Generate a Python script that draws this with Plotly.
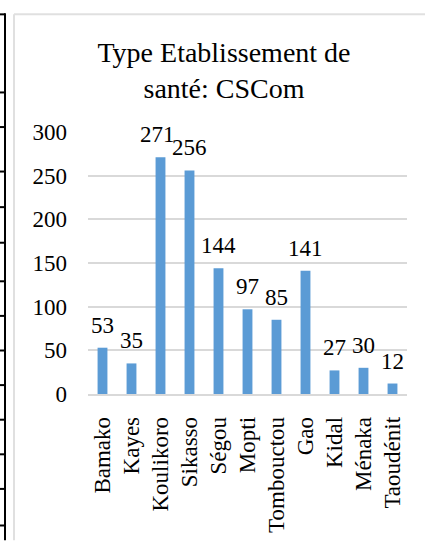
import plotly.graph_objects as go

# Chart data
regions = ["Bamako", "Kayes", "Koulikoro", "Sikasso", "Ségou", "Mopti",
           "Tombouctou", "Gao", "Kidal", "Ménaka", "Taoudénit"]
counts = [53, 35, 271, 256, 144, 97, 85, 141, 27, 30, 12]
y_ticks = [0, 50, 100, 150, 200, 250, 300]

W, H = 425, 545
L, R, T, B = 88, 18, 132, 148
FONT = "Liberation Serif"
BAR = "#5B9BD5"
GRID = "#D9D9D9"


def px_x(px):
    return (px - L) / (W - L - R)


def px_y(py):
    return (H - B - py) / (H - T - B)


fig = go.Figure(go.Bar(
    x=regions, y=counts, marker_color=BAR, marker_line_width=0,
    hoverinfo="x+y",
))

# value labels above each bar (the Koulikoro one nudged left, away from 256)
for name, v in zip(regions, counts):
    fig.add_annotation(
        x=name, y=v, text=str(v), showarrow=False, yanchor="bottom",
        yshift=8, xshift=-3 if name == "Koulikoro" else 0,
        font=dict(family=FONT, size=23, color="black"),
    )

shapes = []
# page frame on the left: black rule with row separators
shapes.append(dict(type="line", xref="paper", yref="paper",
                   x0=px_x(5), x1=px_x(5), y0=px_y(12), y1=px_y(H),
                   line=dict(color="black", width=2)))
for ry in [13, 92, 127, 172, 208, 244, 283, 318, 353, 388, 423, 458, 493, 530]:
    shapes.append(dict(type="line", xref="paper", yref="paper",
                       x0=px_x(0), x1=px_x(5), y0=px_y(ry), y1=px_y(ry),
                       line=dict(color="black", width=2)))
# chart area border (top and left edges)
shapes.append(dict(type="line", xref="paper", yref="paper",
                   x0=px_x(14), x1=px_x(14), y0=px_y(13), y1=px_y(H),
                   line=dict(color="#E0E0E0", width=2)))
shapes.append(dict(type="line", xref="paper", yref="paper",
                   x0=px_x(14), x1=px_x(W), y0=px_y(13), y1=px_y(13),
                   line=dict(color="#E0E0E0", width=2)))

fig.update_layout(
    width=W, height=H,
    margin=dict(l=L, r=R, t=T, b=B, pad=0),
    paper_bgcolor="white", plot_bgcolor="white",
    bargap=0.66,
    showlegend=False,
    shapes=shapes,
    title=dict(
        text="Type Etablissement de<br>santé: CSCom",
        x=224 / W, xanchor="center", xref="container",
        y=1 - 62 / H, yanchor="top", yref="container",
        font=dict(family=FONT, size=28, color="black"),
    ),
    font=dict(family=FONT, size=23, color="black"),
    xaxis=dict(
        tickangle=-90, showgrid=False, showline=True, linecolor=GRID,
        linewidth=1.5, ticks="", ticklabelstandoff=12,
        tickfont=dict(family=FONT, size=23, color="black"),
    ),
    yaxis=dict(
        range=[0, 300], tickvals=y_ticks, showgrid=True, gridcolor=GRID,
        gridwidth=1.5, zeroline=False, showline=False, ticks="",
        ticklabelstandoff=20,
        tickfont=dict(family=FONT, size=23, color="black"),
    ),
)

fig.write_html("out.html")
